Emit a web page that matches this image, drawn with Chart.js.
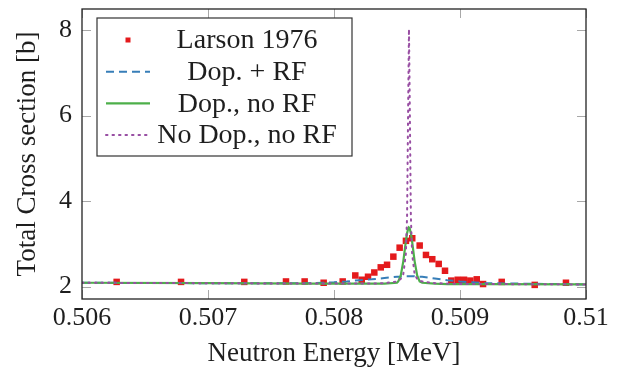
<!DOCTYPE html>
<html lang="en">
<head>
    <meta charset="UTF-8">
    <title>Total cross section</title>
    <script src="https://cdn.jsdelivr.net/npm/chart.js"></script>
    <style>
        body { margin: 0; background: #fff; }
        #wrap { width: 622px; height: 370px; }
    </style>
</head>
<body>
    <div id="wrap"><canvas id="xs" width="622" height="370"></canvas></div>

    <script>
        // measured points (Larson 1976)
        const larsonE = [0.506275, 0.506786, 0.507288, 0.507619, 0.507767, 0.507918, 0.508069, 0.508169,
            0.508220, 0.508270, 0.508320, 0.508371, 0.508421, 0.508471, 0.508521, 0.508571, 0.508621,
            0.508680, 0.508730, 0.508780, 0.508831, 0.508881, 0.508931, 0.508982, 0.509032, 0.509082,
            0.509133, 0.509183, 0.509331, 0.509593, 0.509841];
        const larsonXS = [2.11, 2.11, 2.11, 2.12, 2.12, 2.09, 2.12, 2.26,
            2.16, 2.23, 2.33, 2.45, 2.51, 2.70, 2.91, 3.07, 3.13,
            2.96, 2.74, 2.64, 2.53, 2.37, 2.14, 2.16, 2.16, 2.14,
            2.17, 2.06, 2.11, 2.04, 2.09];

        // computed curves, shared energy grid
        const curveE = [0.5060, 0.5070, 0.5078, 0.5080, 0.5081, 0.5082, 0.5083, 0.5084, 0.5085,
            0.50851, 0.50853, 0.50855, 0.50857, 0.50858, 0.50859, 0.508595, 0.50860, 0.50861,
            0.50862, 0.50864, 0.50866, 0.50868, 0.50870, 0.50880, 0.50890, 0.50900, 0.50910,
            0.50920, 0.5100];
        const dopRF = [2.09, 2.08, 2.08, 2.10, 2.12, 2.15, 2.17, 2.20, 2.23,
            2.23, 2.23, 2.24, 2.24, 2.24, 2.24, 2.24, 2.24, 2.24,
            2.24, 2.24, 2.23, 2.23, 2.23, 2.19, 2.15, 2.12, 2.10,
            2.08, 2.05];
        const dopNoRF = [2.09, 2.08, 2.07, 2.07, 2.07, 2.07, 2.07, 2.07, 2.09,
            2.12, 2.26, 2.59, 3.05, 3.25, 3.37, 3.38, 3.37, 3.25,
            3.05, 2.59, 2.26, 2.12, 2.09, 2.07, 2.06, 2.06, 2.06,
            2.06, 2.05];
        const noDopNoRF = [2.09, 2.08, 2.07, 2.07, 2.07, 2.07, 2.07, 2.08, 2.12,
            2.14, 2.18, 2.29, 2.76, 3.64, 6.63, 8.02, 6.63, 3.64,
            2.76, 2.29, 2.18, 2.14, 2.12, 2.08, 2.07, 2.06, 2.06,
            2.06, 2.05];

        const xTicks = [0.506, 0.507, 0.508, 0.509, 0.51];
        const xTickLabels = ['0.506', '0.507', '0.508', '0.509', '0.51'];
        const yTicks = [2, 4, 6, 8];

        const serif = '"Liberation Serif", "DejaVu Serif", serif';
        const TICK = 9;

        function pts(xs, ys) {
            return xs.map((v, i) => ({ x: v, y: ys[i] }));
        }

        // inward ticks + frame, pgfplots style
        const frame = {
            id: 'frame',
            beforeDatasetsDraw(chart) {
                const { ctx, chartArea: a, scales: { x, y } } = chart;
                ctx.save();
                ctx.strokeStyle = '#a8a8a8';
                ctx.lineWidth = 1;
                ctx.beginPath();
                x.ticks.forEach(t => {
                    const px = Math.round(x.getPixelForValue(t.value)) + 0.5;
                    ctx.moveTo(px, a.bottom); ctx.lineTo(px, a.bottom - TICK);
                    ctx.moveTo(px, a.top); ctx.lineTo(px, a.top + TICK);
                });
                y.ticks.forEach(t => {
                    const py = Math.round(y.getPixelForValue(t.value)) + 0.5;
                    ctx.moveTo(a.left, py); ctx.lineTo(a.left + TICK, py);
                    ctx.moveTo(a.right, py); ctx.lineTo(a.right - TICK, py);
                });
                ctx.stroke();
                ctx.restore();
            },
            afterDatasetsDraw(chart) {
                const { ctx, chartArea: a } = chart;
                ctx.save();
                ctx.strokeStyle = '#222';
                ctx.lineWidth = 1.3;
                ctx.strokeRect(a.left, a.top, a.right - a.left, a.bottom - a.top);
                ctx.restore();
            }
        };

        // boxed legend, text centred like the tikz one
        const boxLegend = {
            id: 'boxLegend',
            afterDraw(chart) {
                const ctx = chart.ctx;
                const bx = 97, by = 18, bw = 255, bh = 138;
                ctx.save();
                ctx.fillStyle = '#fff';
                ctx.fillRect(bx, by, bw, bh);
                ctx.strokeStyle = '#333';
                ctx.lineWidth = 1.2;
                ctx.strokeRect(bx, by, bw, bh);
                chart.data.datasets.forEach((ds, i) => {
                    const cy = 40 + i * 31.7;
                    ctx.save();
                    if (ds.showLine === false) {
                        ctx.fillStyle = ds.backgroundColor;
                        ctx.fillRect(125.5, cy - 2.5, 5, 5);
                    } else {
                        ctx.strokeStyle = ds.borderColor;
                        ctx.lineWidth = ds.borderWidth;
                        ctx.setLineDash(ds.borderDash || []);
                        ctx.lineCap = ds.borderCapStyle || 'butt';
                        ctx.beginPath();
                        ctx.moveTo(106, cy);
                        ctx.lineTo(150, cy);
                        ctx.stroke();
                    }
                    ctx.restore();
                    ctx.fillStyle = '#1e1e1e';
                    ctx.font = '28px ' + serif;
                    ctx.textAlign = 'center';
                    ctx.textBaseline = 'middle';
                    ctx.fillText(ds.label, 247, cy + 1);
                });
                ctx.restore();
            }
        };

        new Chart(document.getElementById('xs'), {
            type: 'scatter',
            data: {
                datasets: [
                    {
                        label: 'Larson 1976',
                        data: pts(larsonE, larsonXS),
                        showLine: false,
                        pointStyle: 'rect',
                        pointRadius: 4.6,
                        backgroundColor: '#e41a1c',
                        borderColor: '#e41a1c',
                        borderWidth: 0,
                        order: 4
                    },
                    {
                        label: 'Dop. + RF',
                        data: pts(curveE, dopRF),
                        showLine: true,
                        pointRadius: 0,
                        borderColor: '#377eb8',
                        borderWidth: 2,
                        borderDash: [8, 5],
                        tension: 0,
                        order: 3
                    },
                    {
                        label: 'Dop., no RF',
                        data: pts(curveE, dopNoRF),
                        showLine: true,
                        pointRadius: 0,
                        borderColor: '#4daf4a',
                        borderWidth: 2.2,
                        tension: 0,
                        order: 2
                    },
                    {
                        label: 'No Dop., no RF',
                        data: pts(curveE, noDopNoRF),
                        showLine: true,
                        pointRadius: 0,
                        borderColor: '#984ea3',
                        borderWidth: 2,
                        borderDash: [1.5, 5],
                        borderCapStyle: 'round',
                        tension: 0,
                        order: 1
                    }
                ]
            },
            options: {
                responsive: false,
                animation: false,
                layout: { padding: { top: 9, right: 36, left: 0, bottom: 0 } },
                plugins: {
                    legend: { display: false },
                    tooltip: { enabled: false }
                },
                scales: {
                    x: {
                        type: 'linear',
                        min: 0.506,
                        max: 0.51,
                        afterBuildTicks: s => { s.ticks = xTicks.map(v => ({ value: v })); },
                        afterFit: s => { s.height = 71; s.paddingLeft = 0; s.paddingRight = 0; },
                        grid: { display: false, drawTicks: false },
                        border: { display: false },
                        ticks: {
                            padding: 4,
                            color: '#1e1e1e',
                            font: { family: serif, size: 26 },
                            maxRotation: 0,
                            callback: (v, i) => xTickLabels[i]
                        },
                        title: {
                            display: true,
                            text: 'Neutron Energy [MeV]',
                            color: '#1e1e1e',
                            font: { family: serif, size: 27 },
                            padding: { top: 0, bottom: 0 }
                        }
                    },
                    y: {
                        type: 'linear',
                        min: 1.71,
                        max: 8.49,
                        afterBuildTicks: s => { s.ticks = yTicks.map(v => ({ value: v })); },
                        afterFit: s => { s.width = 82; s.paddingTop = 0; s.paddingBottom = 0; },
                        grid: { display: false, drawTicks: false },
                        border: { display: false },
                        ticks: {
                            padding: 10,
                            color: '#1e1e1e',
                            font: { family: serif, size: 26 },
                            callback: v => String(v)
                        },
                        title: {
                            display: true,
                            text: 'Total Cross section [b]',
                            color: '#1e1e1e',
                            font: { family: serif, size: 27 },
                            padding: { top: 12, bottom: 0 }
                        }
                    }
                }
            },
            plugins: [frame, boxLegend]
        });
    </script>
</body>
</html>
